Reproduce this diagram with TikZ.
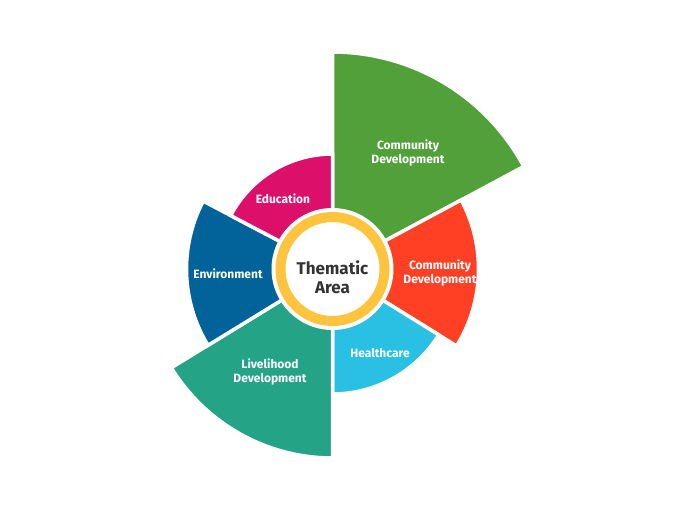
\documentclass[tikz,border=0pt]{standalone}
\usepackage{fontspec}
\setmainfont{Fira Sans}
\definecolor{cgreen}{RGB}{81,160,58}
\definecolor{cred}{RGB}{255,64,36}
\definecolor{ccyan}{RGB}{41,192,227}
\definecolor{cteal}{RGB}{37,163,134}
\definecolor{cblue}{RGB}{1,99,153}
\definecolor{cmagenta}{RGB}{220,15,106}
\definecolor{cyellow}{RGB}{255,196,61}
\definecolor{cdark}{RGB}{51,51,51}
\tikzset{
  sector/.style={draw=white, line width=3.5pt, line join=miter},
  seclabel/.style={text=white, align=center, font=\bfseries\fontsize{12}{13.5}\selectfont},
  hub/.style={text=cdark, align=center, font=\bfseries\fontsize{17}{19}\selectfont}
}

\begin{document}
\begin{tikzpicture}[x=1pt,y=1pt]
  \useasboundingbox (-332.5,-240) rectangle (367.5,269);
  \path [sector,fill=cgreen] (0,0) -- (90:217) arc (90:28.2:217) -- cycle;
  \path [sector,fill=cred] (0,0) -- (28.2:146) arc (28.2:-31.8:146) -- cycle;
  \path [sector,fill=ccyan] (0,0) -- (-31.8:125) arc (-31.8:-90:125) -- cycle;
  \path [sector,fill=cteal] (0,0) -- (-90:189) arc (-90:-148.5:189) -- cycle;
  \path [sector,fill=cblue] (0,0) -- (211.5:146) arc (211.5:152.3:146) -- cycle;
  \path [sector,fill=cmagenta] (0,0) -- (152.3:115) arc (152.3:90:115) -- cycle;
  \fill [white] (0,0) circle (61);
  \draw [cyellow,line width=10pt,fill=white] (0,0) circle (52);
  \node [hub] (hub) at (0,-8.5) {Thematic\\Area};
  \node [seclabel] (commtop) at (75.5,116) {Community\\Development};
  \node [seclabel] (commright) at (107.5,-4) {Community\\Development};
  \node [seclabel] (health) at (47.5,-84) {Healthcare};
  \node [seclabel] (liveli) at (-62.5,-103) {Livelihood\\Development};
  \node [seclabel] (environ) at (-104.5,-5) {Environment};
  \node [seclabel] (educ) at (-49.5,70) {Education};
\end{tikzpicture}
\end{document}
